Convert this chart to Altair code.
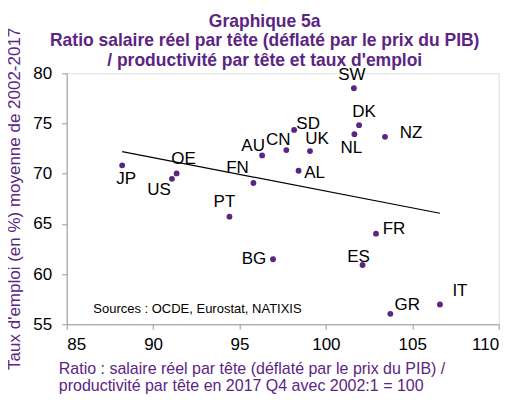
import altair as alt
import pandas as pd

# ---- data ----
countries = ["JP", "US", "OE", "FN", "AU", "CN", "SD", "UK", "AL", "NL",
             "DK", "SW", "NZ", "PT", "BG", "FR", "ES", "GR", "IT"]
ratio = [88.21, 91.09, 91.36, 95.81, 96.31, 97.71, 98.16, 99.08, 98.42, 101.65,
         101.92, 101.62, 103.42, 94.42, 96.94, 102.90, 102.12, 103.73, 106.60]
emploi = [70.83, 69.49, 70.03, 69.07, 71.82, 72.35, 74.36, 72.25, 70.29, 73.94,
          74.83, 78.51, 73.67, 65.72, 61.48, 64.03, 60.91, 56.04, 56.97]

# label offsets (pixels) relative to each point -- styling only
label_dx = [4, -13, 7, -16, -9, -8, 14, 7, 16, -3, 5, -2, 26, -5, -19, 18, -4, 17, 20]
label_dy = [14, 11, -14, -15, -9, -10, -6, -12, 2, 14, -13, -13, -4, -15, 0, -5, -8, -9, -14]

x_ticks = [85, 90, 95, 100, 105, 110]
y_ticks = [55, 60, 65, 70, 75, 80]

title_lines = ["Graphique 5a",
               "Ratio salaire réel par tête (déflaté par le prix du PIB)",
               "/ productivité par tête et taux d'emploi"]
x_title = ["Ratio : salaire réel par tête (déflaté par le prix du PIB) /",
           "productivité par tête en 2017 Q4 avec 2002:1 = 100"]
y_title = "Taux d'emploi (en %) moyenne de 2002-2017"
source_text = "Sources : OCDE, Eurostat, NATIXIS"

PURPLE = "#5C2483"
FONT = "Liberation Sans"
W, H = 432, 251
XD, YD = [85, 110], [55, 80]

df = pd.DataFrame({"pays": countries, "ratio": ratio, "emploi": emploi,
                   "dx": label_dx, "dy": label_dy})

xscale = alt.Scale(domain=XD, nice=False, zero=False)
yscale = alt.Scale(domain=YD, nice=False, zero=False)

x_enc = alt.X("ratio:Q", scale=xscale,
              axis=alt.Axis(values=x_ticks, title=x_title, grid=False,
                            domainColor="#999999", tickColor="#999999",
                            tickSize=5, labelFontSize=17, labelColor="#000000",
                            labelFont=FONT, labelPadding=7,
                            titleFont=FONT, titleFontSize=16, titleFontWeight="normal",
                            titleColor=PURPLE, titleAlign="left",
                            titleBaseline="alphabetic", titleX=-8.4, titleY=49.5,
                            titleLineHeight=16.5))
y_enc = alt.Y("emploi:Q", scale=yscale,
              axis=alt.Axis(values=y_ticks, title=y_title, grid=False,
                            domainColor="#999999", tickColor="#999999",
                            tickSize=5, labelFontSize=17, labelColor="#000000",
                            labelFont=FONT, labelPadding=10,
                            titleFont=FONT, titleFontSize=17, titleFontWeight="normal",
                            titleColor=PURPLE, titleAngle=270, titleAlign="center",
                            titleBaseline="middle", titleX=-51.7, titleY=125))

base = alt.Chart(df)

trend = base.transform_regression("ratio", "emploi").mark_line(
    color="#000000", strokeWidth=1.2
).encode(x=x_enc, y=y_enc)

points = base.mark_circle(size=34, color=PURPLE, opacity=1).encode(x=x_enc, y=y_enc)

# convert pixel offsets into data units with the scale's px-per-unit
labels = base.transform_calculate(
    lx=f"datum.ratio + datum.dx * {(XD[1]-XD[0])/W}",
    ly=f"datum.emploi - datum.dy * {(YD[1]-YD[0])/H}",
).mark_text(fontSize=17, font=FONT, color="#000000",
            align="center", baseline="middle").encode(
    x=alt.X("lx:Q", scale=xscale),
    y=alt.Y("ly:Q", scale=yscale),
    text="pays:N")

src_df = pd.DataFrame({"ratio": [86.54], "emploi": [56.5], "t": [source_text]})
source = alt.Chart(src_df).mark_text(fontSize=13, font=FONT, color="#000000",
                                     align="left", baseline="middle").encode(
    x=alt.X("ratio:Q", scale=xscale), y=alt.Y("emploi:Q", scale=yscale), text="t:N")

chart = alt.layer(trend, points, labels, source).properties(
    width=W, height=H,
    title=alt.TitleParams(text=title_lines, font=FONT, fontSize=17.5, fontWeight="bold",
                          color=PURPLE, lineHeight=19.5, anchor="middle", dx=-18,
                          dy=46, offset=4),
    autosize=alt.AutoSizeParams(type="none"),
    padding={"left": 58.7, "top": 65.3, "right": 8, "bottom": 70},
).configure_view(stroke=None).configure(background="#ffffff")

chart.save("out.html", embed_options={"renderer": "svg", "actions": False})
